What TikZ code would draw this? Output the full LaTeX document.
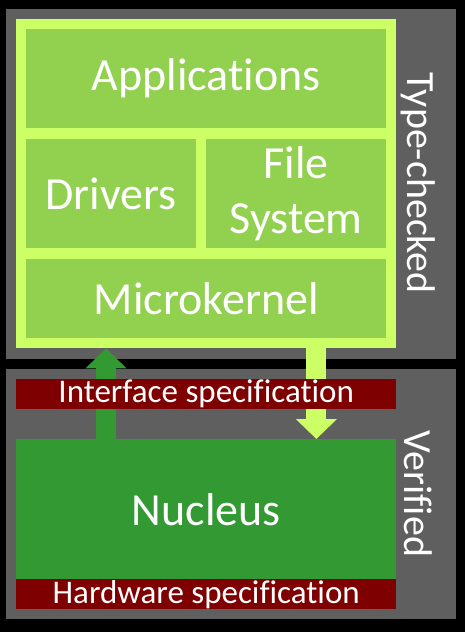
\documentclass[tikz,border=0pt]{standalone}
\usepackage{fontspec}
\setmainfont{Carlito}[Ligatures=NoCommon]
\usetikzlibrary{arrows.meta}
\definecolor{panelgray}{HTML}{5F5F5F}
\definecolor{limegreen}{HTML}{CCFF66}
\definecolor{layergreen}{HTML}{92D050}
\definecolor{nucleusgreen}{HTML}{339933}
\definecolor{specred}{HTML}{7F0000}
\begin{document}
\begin{tikzpicture}[x=1pt,y=-1pt,
  box/.style={anchor=north west,inner sep=0pt,text=white,minimum width=#1},
  big/.style={font=\fontsize{46}{55}\selectfont},
  spec/.style={box=380pt,minimum height=30pt,fill=specred,font=\fontsize{33}{33}\selectfont},
  side/.style={rotate=-90,text=white,inner sep=0pt,font=\fontsize{40}{40}\selectfont},
  block/.style={line width=20pt,-{Triangle[width=40pt,length=20pt]}}]
\fill (0,0) rectangle (465,632);
\fill[panelgray] (6,9) rectangle (456,359);
\fill[panelgray] (6,369) rectangle (456,619);
\node[box=380pt,minimum height=329pt,fill=limegreen] (frame) at (16,19) {};
\node[box=360pt,minimum height=99pt,fill=layergreen,big] (apps) at (26,29) {Applications};
\node[box=170pt,minimum height=109pt,fill=layergreen,big] (drivers) at (26,139) {Drivers};
\node[box=180pt,minimum height=109pt,fill=layergreen,big,align=center] (fs) at (206,139) {File\\System};
\node[box=360pt,minimum height=79pt,fill=layergreen,big] (ukernel) at (26,259) {Microkernel};
\node[box=380pt,minimum height=140pt,fill=nucleusgreen,big] (nucleus) at (16,439) {Nucleus};
\draw[block,nucleusgreen] ([xshift=90pt]nucleus.north west) -- ([xshift=90pt]frame.south west);
\draw[block,limegreen] ([xshift=-80pt]frame.south east) -- ([xshift=-80pt]nucleus.north east);
\node[spec] (iface) at (16,379) {Interface specification};
\node[spec] (hw) at (16,579) {Hardware specification};
\node[side] (typed) at (418,183) {Type-checked};
\node[side] (verified) at (418,494) {Verified};
\end{tikzpicture}
\end{document}
